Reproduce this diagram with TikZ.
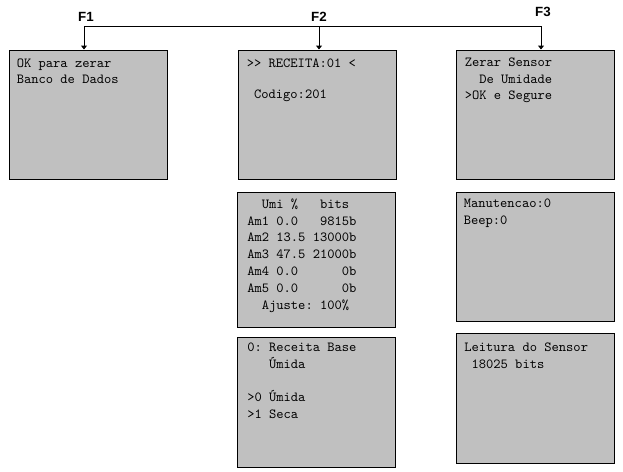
\documentclass[tikz,border=0pt]{standalone}
\usepackage{fontspec}
\setmainfont{Liberation Sans}
\usetikzlibrary{arrows.meta, positioning}
\definecolor{lcdgray}{HTML}{C0C0C0}

\begin{document}
\begin{tikzpicture}[
  x=0.75pt, y=-0.75pt,
  screen/.style={draw=black, fill=lcdgray, line width=0.75pt, minimum width=118.5pt, minimum height=96.75pt, inner sep=0pt},
  tallscreen/.style={screen, minimum height=101.25pt},
  lcd/.style={inner sep=0pt, align=left, font=\ttfamily\fontsize{10.4}{12.6}\selectfont\frenchspacing},
  key/.style={font=\fontsize{10}{12}\selectfont\bfseries},
  arrow/.style={-{Triangle[length=3pt, width=4.5pt]}, line width=0.75pt, draw=black},
  bus/.style={line width=0.75pt, draw=black}
]
\useasboundingbox (0,0) rectangle (623,471);

% Function keys
\node[key] (f1) at (86,17) {F1};
\node[key] (f2) at (319,17) {F2};
\node[key] (f3) at (543,12) {F3};

% Column F1
\node[screen] (zerarbd) at (88,114.5) {};
\node[lcd, below right=6.5pt and 6pt of zerarbd.north west] (zerarbdtxt)
  {OK para zerar\\Banco de Dados};

% Column F2
\node[screen] (receita) at (317,114.5) {};
\node[lcd, below right=6.75pt and 6.75pt of receita.north west] (receitatxt)
  {>{}> RECEITA:01 <\\[-2pt]\mbox{}\\~Codigo:201};

\node[tallscreen] (umidade) at (316.5,259.5) {};
\node[lcd, below right=5.25pt and 7.5pt of umidade.north west] (umidadetxt)
  {~~Umi \%~~~bits\\Am1 0.0~~~9815b\\Am2 13.5 13000b\\Am3 47.5 21000b\\Am4 0.0~~~~~~0b\\Am5 0.0~~~~~~0b\\~~Ajuste: 100\%};

\node[screen, minimum height=97.5pt] (base) at (316.5,402) {};
\node[lcd, below right=4.5pt and 7.5pt of base.north west] (basetxt)
  {0: Receita Base\\~~~Úmida\\\mbox{}\\>0 Úmida\\>1 Seca};

% Column F3
\node[screen] (zerarsensor) at (535,114.5) {};
\node[lcd, below right=6pt and 6.75pt of zerarsensor.north west] (zerarsensortxt)
  {Zerar Sensor\\~~De Umidade\\>OK e Segure};

\node[screen] (manut) at (535,256.5) {};
\node[lcd, below right=5.25pt and 6pt of manut.north west] (manuttxt)
  {Manutencao:0\\Beep:0};

\node[screen, minimum height=97.5pt] (leitura) at (535.5,398) {};
\node[lcd, below right=7.5pt and 6pt of leitura.north west] (leituratxt)
  {Leitura do Sensor\\~18025 bits};

% Key bus and arrows
\coordinate (j1) at (84,26);
\coordinate (j2) at (319,26);
\coordinate (j3) at (541,26);
\draw[bus] (j1) -- (j3);
\draw[arrow] (j1) -- (j1 |- zerarbd.north);
\draw[arrow] (j2) -- (j2 |- receita.north);
\draw[arrow] (j3) -- (j3 |- zerarsensor.north);

\end{tikzpicture}
\end{document}
